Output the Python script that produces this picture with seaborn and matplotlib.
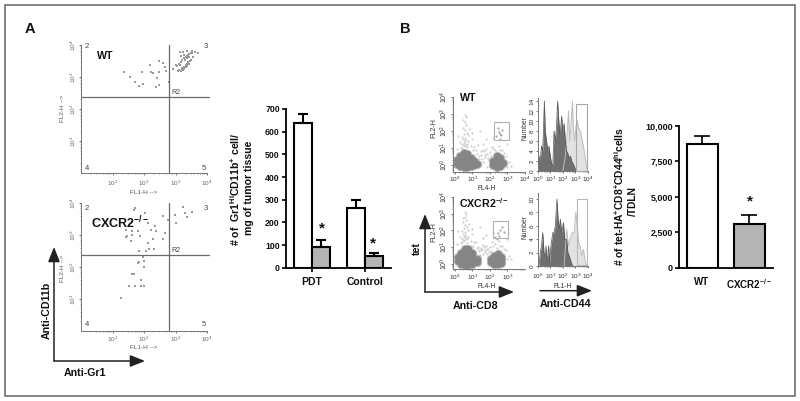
import pandas as pd
import numpy as np
import matplotlib
matplotlib.use('Agg')
import matplotlib.pyplot as plt
from matplotlib.patches import Rectangle
import seaborn as sns

# Panel A dot plots, values read in decades of the log axes
wt_fl1 = [1.37, 1.57, 1.73, 1.84, 1.96, 1.95, 2.19, 2.22, 2.30, 2.37, 2.41, 2.49, 2.48, 2.48, 2.60, 2.68, 2.70, 2.78, 2.91, 3.00,
          3.13, 3.25, 3.38, 3.51, 3.61, 3.70,
          3.05, 3.08, 3.10, 3.12, 3.14, 3.16, 3.18, 3.20, 3.20, 3.22, 3.24, 3.26, 3.28, 3.28, 3.30, 3.32, 3.32, 3.34, 3.36,
          3.36, 3.38, 3.40, 3.40, 3.42, 3.44, 3.44, 3.46, 3.48, 3.50, 3.52, 3.54, 3.16, 3.26, 3.36]
wt_fl2 = [3.15, 2.99, 2.83, 2.72, 2.77, 3.15, 3.38, 3.15, 3.14, 2.70, 2.96, 2.75, 3.17, 3.50, 3.45, 3.32, 3.20, 2.85, 3.25, 3.38,
          3.77, 3.77, 3.82, 3.82, 3.79, 3.74,
          3.34, 3.20, 3.40, 3.22, 3.38, 3.18, 3.46, 3.24, 3.52, 3.28, 3.22, 3.58, 3.32, 3.26, 3.54, 3.30, 3.62, 3.36, 3.58,
          3.66, 3.40, 3.70, 3.46, 3.64, 3.42, 3.72, 3.50, 3.74, 3.54, 3.76, 3.62, 3.66, 3.68, 3.34]
ko_fl1 = [1.71, 1.69, 2.03, 1.42, 1.47, 1.42, 1.63, 1.62, 1.60, 1.82, 1.87, 2.14, 2.22, 2.35, 2.39, 2.30, 2.14, 2.05, 2.16, 2.33,
          1.84, 1.96, 2.01, 1.85, 1.82, 2.00, 1.62, 1.69, 1.89, 1.52, 1.73, 1.89, 1.99, 1.28, 2.59, 2.76, 2.68, 2.59, 2.97, 3.00,
          3.24, 3.30, 3.51, 3.35]
ko_fl2 = [3.84, 3.78, 3.70, 3.15, 2.98, 2.94, 3.14, 3.01, 2.82, 3.14, 2.96, 3.38, 3.17, 3.28, 3.14, 2.88, 2.74, 2.51, 2.55, 2.55,
          2.50, 2.32, 2.18, 2.16, 2.11, 2.00, 1.79, 1.79, 1.60, 1.40, 1.40, 1.40, 1.40, 1.02, 3.60, 3.46, 3.06, 2.88, 3.63, 3.38,
          3.89, 3.70, 3.72, 3.57]
quad_fl1 = 2.79
quad_fl2 = 2.375

# Panel A bars
a_groups = ['PDT', 'PDT', 'Control', 'Control']
a_mice = ['WT', 'CXCR2', 'WT', 'CXCR2']
a_counts = [640, 90, 262, 52]
a_err = [40, 30, 36, 13]

# Panel B dot plots: dense populations and the sparse events around them
wt_pop_fl4 = [0.12, 0.12, 0.3, 0.3, 0.3, 0.3, 0.5, 0.5, 0.5, 0.5, 0.7, 0.7, 0.7, 0.7, 0.9, 0.9, 0.9, 1.1, 1.1, 1.25,
              2.2, 2.2, 2.4, 2.4, 2.4, 2.4, 2.6, 2.6, 2.6, 2.75]
wt_pop_fl2 = [0.05, 0.3, -0.05, 0.15, 0.4, 0.55, -0.1, 0.15, 0.4, 0.68, -0.1, 0.15, 0.4, 0.62, -0.05, 0.15, 0.4, 0.0, 0.22, 0.08,
              0.02, 0.25, -0.1, 0.12, 0.32, 0.5, -0.05, 0.15, 0.38, 0.12]
ko_pop_fl4 = [0.15, 0.15, 0.35, 0.35, 0.35, 0.35, 0.55, 0.55, 0.55, 0.55, 0.55, 0.75, 0.75, 0.75, 0.75, 0.75, 1.0, 1.0, 1.0, 1.0, 1.25, 1.25,
              2.05, 2.05, 2.25, 2.25, 2.25, 2.45, 2.45, 2.45, 2.45, 2.65, 2.65, 2.65]
ko_pop_fl2 = [0.15, 0.4, -0.0, 0.2, 0.45, 0.65, -0.05, 0.2, 0.45, 0.7, 0.88, -0.05, 0.2, 0.45, 0.7, 0.9, 0.0, 0.2, 0.45, 0.65, 0.1, 0.3,
              0.1, 0.32, 0.0, 0.25, 0.48, 0.0, 0.2, 0.42, 0.58, 0.05, 0.25, 0.42]
wt_sparse_fl4 = [0.4, 0.5, 0.6, 0.7, 0.45, 0.55, 0.65, 0.5, 0.6, 0.75, 0.35, 0.8, 0.55, 0.7, 0.45, 0.65, 0.3, 0.9, 0.6, 0.5,
                 1.0, 1.2, 0.2, 1.3, 1.5, 1.7, 1.6, 1.8, 1.9, 2.0, 2.1, 1.75, 1.55, 2.3, 2.5, 2.7, 2.9, 2.2, 2.6, 2.8,
                 1.4, 1.65, 1.85, 2.05, 2.4, 3.1, 3.0, 0.1, 1.1, 0.95, 1.25, 3.2, 1.45, 2.15, 2.95, 1.05,
                 0.52, 0.62, 0.58, 0.42, 0.68, 0.48, 0.72, 0.38, 1.35, 1.48, 1.62, 1.72, 1.95, 1.58, 1.42, 1.82]
wt_sparse_fl2 = [1.0, 1.3, 1.6, 1.9, 2.2, 2.5, 2.8, 1.15, 1.45, 1.75, 1.0, 2.1, 2.05, 1.25, 1.5, 2.35, 1.35, 1.1, 2.95, 1.85,
                 1.5, 0.9, 1.7, 1.2, 0.8, 0.6, 1.25, 0.95, 0.4, 0.75, 1.05, 1.5, 0.35, 0.9, 1.1, 0.85, 0.55, 0.95, 0.9, 0.7,
                 0.55, 0.8, -0.1, 0.5, 0.75, 0.2, -0.1, 0.95, 1.05, 1.9, 0.65, -0.05, 2.0, 1.6, 1.25, 0.85,
                 1.1, 1.2, 1.38, 1.62, 1.05, 2.65, 1.4, 1.22, 0.35, 0.6, 0.2, 0.45, 0.3, 0.9, 0.15, 0.65]
ko_sparse_fl4 = [0.4, 0.5, 0.6, 0.7, 0.45, 0.55, 0.65, 0.5, 0.6, 0.75, 0.35, 0.8, 0.55, 0.7, 0.45, 0.65, 0.3, 0.9, 0.6, 0.5,
                 1.0, 1.2, 0.2, 1.3, 1.5, 1.7, 1.6, 1.8, 1.9, 2.0, 2.1, 1.75, 1.55, 2.3, 2.5, 2.7, 2.9, 2.2, 2.6, 2.8,
                 1.4, 1.65, 1.85, 2.05, 2.4, 3.1, 3.0, 0.1, 1.1, 0.95, 1.25, 3.2, 1.45, 2.15, 2.95, 1.05,
                 0.52, 0.62, 0.58, 0.42, 0.68, 0.48, 0.72, 0.38, 1.35, 1.48, 1.62, 1.72, 1.95, 1.58, 1.42, 1.82]
ko_sparse_fl2 = [1.3, 1.6, 1.9, 2.2, 2.5, 2.8, 3.0, 1.45, 1.75, 2.05, 1.25, 2.4, 2.35, 1.55, 1.8, 2.65, 1.6, 1.4, 3.1, 2.15,
                 1.8, 1.3, 1.95, 1.0, 0.9, 0.7, 1.55, 1.1, 0.9, 1.0, 1.3, 1.75, 0.85, 1.2, 1.35, 1.05, 0.85, 1.1, 1.1, 0.9,
                 0.85, 1.0, 0.6, 0.8, 0.95, 0.5, 0.3, 1.2, 1.3, 2.1, 0.95, 0.3, 2.2, 1.85, 1.5, 1.1,
                 1.35, 1.5, 1.68, 1.95, 1.28, 2.75, 1.62, 1.48, 0.75, 0.95, 0.6, 0.85, 0.7, 1.15, 0.55, 0.9]
wt_gate_fl4 = [2.35, 2.5, 2.55, 2.7, 2.45, 2.65, 2.6]
wt_gate_fl2 = [1.7, 1.95, 1.5, 2.05, 2.2, 1.75, 1.85]
ko_gate_fl4 = [2.3, 2.45, 2.6, 2.7, 2.5, 2.4, 2.8]
ko_gate_fl2 = [1.6, 1.85, 2.05, 2.2, 1.7, 1.5, 1.9]

# Panel B histograms
wt_dark_fl1 = [0, .1, .2, .3, .4, .53, .6, .7, .8, .9, 1, 1.1, 1.2, 1.3, 1.4, 1.5, 1.58, 1.68, 1.78, 1.9, 2, 2.1, 2.2, 2.3, 2.4, 2.5, 2.6, 2.7, 2.8, 2.9, 3.0, 3.1]
wt_dark_num = [0, 3, 2, 5, 4, 14, 8, 6, 4, 5, 3, 1.5, 1, 8, 6, 9, 14, 10, 7, 11, 8, 9.5, 6, 4, 3.5, 2.5, 3, 2, 1.5, 1, .3, 0]
wt_light_fl1 = [2.0, 2.2, 2.3, 2.45, 2.55, 2.65, 2.76, 2.85, 2.95, 3.05, 3.15, 3.25, 3.4, 3.55, 3.7, 3.85, 3.95]
wt_light_num = [0, 3, 6, 12, 6, 9, 14, 8, 6, 9, 10, 8.5, 8, 6, 4, 1.5, 0]
ko_dark_fl1 = [.1, .2, .3, .4, .5, .6, .66, .75, .87, .95, 1.05, 1.2, 1.3, 1.4, 1.53, 1.62, 1.72, 1.8, 1.9, 2.05, 2.15, 2.3, 2.4, 2.5, 2.6, 2.7, 2.8]
ko_dark_num = [0, 2, 3, 5, 2, 1.5, 3, .5, 3, .5, 3, 5, 5, 6, 10, 7, 5.5, 7, 5, 6.5, 4, 4, 2, 1.5, 1, .3, 0]
ko_light_fl1 = [2.1, 2.3, 2.45, 2.58, 2.75, 2.9, 3.03, 3.15, 3.25, 3.37, 3.5, 3.63, 3.8, 3.95]
ko_light_num = [0, 5.5, 3, 4, 5, 5, 8, 6, 3.5, 3, 1.5, 2.5, .5, 0]

# Panel B bars
b_mice = ['WT', 'CXCR2$\\mathbf{^{-/-}}$']
b_counts = [8750, 3050]
b_err = [550, 700]
b_ticks = [0, 2500, 5000, 7500, 10000]
b_ticklabels = ['0', '2,500', '5,000', '7,500', '10,000']

sns.set_theme(style='white')
plt.rcParams['font.family'] = ['Liberation Sans', 'DejaVu Sans']
plt.rcParams['mathtext.fontset'] = 'custom'
plt.rcParams['mathtext.rm'] = 'Liberation Sans'
plt.rcParams['mathtext.bf'] = 'Liberation Sans:bold'
plt.rcParams['mathtext.default'] = 'rm'

W, H = 800, 401
fig = plt.figure(figsize=(W / 100, H / 100), dpi=100, facecolor='white')

# overlay in pixel coordinates for frame, arrows and free text
page = fig.add_axes([0, 0, 1, 1], zorder=5)
page.set_xlim(0, W)
page.set_ylim(H, 0)
page.axis('off')
page.patch.set_alpha(0)


def add_ax(left, top, right, bottom):
    return fig.add_axes([left / W, 1 - bottom / H, (right - left) / W, (bottom - top) / H])


def label(x, y, s, size=7.7, weight='bold', color='#111111', rotation=0):
    page.text(x, y, s, fontsize=size, fontweight=weight, color=color, rotation=rotation, ha='center', va='center')


def arrow(x0, y0, x1, y1):
    page.annotate('', xy=(x1, y1), xytext=(x0, y0),
                  arrowprops=dict(arrowstyle='-|>,head_length=0.75,head_width=0.3', color='#222222', lw=1.1,
                                  shrinkA=0, shrinkB=0))


def log_ticks(ax, axis, decades, size, color, pad):
    labels = ['$10^{%d}$' % d for d in decades]
    minors = [d + m for d in range(-1, 5) for m in np.log10(np.arange(2, 10))]
    if axis == 'x':
        ax.set_xticks(decades, labels)
        ax.set_xticks([m for m in minors if ax.get_xlim()[0] < m < ax.get_xlim()[1]], minor=True)
        ax.tick_params(axis='x', which='major', labelsize=size, labelcolor=color, length=1.5, width=0.6, color='#666666', pad=pad, bottom=True)
        ax.tick_params(axis='x', which='minor', length=1, width=0.4, color='#666666', bottom=True)
    else:
        ax.set_yticks(decades, labels, rotation=90, va='center')
        ax.set_yticks([m for m in minors if ax.get_ylim()[0] < m < ax.get_ylim()[1]], minor=True)
        ax.tick_params(axis='y', which='major', labelsize=size, labelcolor=color, length=1.5, width=0.6, color='#666666', pad=pad, left=True)
        ax.tick_params(axis='y', which='minor', length=1, width=0.4, color='#666666', left=True)


def style_flow(ax):
    sns.despine(ax=ax)
    for side in ['left', 'bottom']:
        ax.spines[side].set_color('#777777')
        ax.spines[side].set_linewidth(0.7)
    ax.set_xlabel('')
    ax.set_ylabel('')


def quadrant_plot(top, bottom, fl1, fl2, xpad):
    ax = add_ax(81, top, 207, bottom)
    ax.patch.set_alpha(0)
    sns.scatterplot(x=fl1, y=fl2, ax=ax, color='#9a9a9a', s=2.2, marker='s', linewidth=0, clip_on=False)
    ax.set_xlim(0, 4)
    ax.set_ylim(0, 4)
    ax.plot([0, 4.07], [quad_fl2, quad_fl2], color='#6a6a6a', lw=0.9, clip_on=False)
    ax.plot([quad_fl1, quad_fl1], [0, 4], color='#6a6a6a', lw=0.9, clip_on=False)
    style_flow(ax)
    log_ticks(ax, 'x', [1, 2, 3, 4], 4.6, '#666666', xpad)
    log_ticks(ax, 'y', [1, 2, 3, 4], 4.6, '#666666', 1)
    return ax


def gated_plot(top, bottom, ymin, pop_x, pop_y, sp_x, sp_y, g_x, g_y, xdecades):
    ax = add_ax(453, top, 525, bottom)
    ax.patch.set_alpha(0)
    sns.scatterplot(x=sp_x, y=sp_y, ax=ax, color='#cfcfcf', s=2.5, linewidth=0)
    # soft halo under the dense populations
    sns.scatterplot(x=pop_x, y=pop_y, ax=ax, color='#b4b4b4', s=44, linewidth=0, clip_on=False)
    sns.scatterplot(x=pop_x, y=pop_y, ax=ax, color='#858585', s=26, linewidth=0, clip_on=False)
    sns.scatterplot(x=g_x, y=g_y, ax=ax, color='#a8a8a8', s=2.5, linewidth=0)
    ax.set_xlim(-0.11, 4)
    ax.set_ylim(ymin, 4)
    style_flow(ax)
    log_ticks(ax, 'x', xdecades, 4.6, '#333333', 1)
    log_ticks(ax, 'y', [0, 1, 2, 3, 4], 5, '#333333', 1)
    return ax


def hist_plot(top, bottom, ymax, yticks, lx, ly, dx, dy, xpad):
    ax = add_ax(537.7, top, 588, bottom)
    ax.patch.set_alpha(0)
    ax.fill_between(lx, ly, color='#e2e2e2', lw=0)
    sns.lineplot(x=lx, y=ly, ax=ax, color='#bdbdbd', lw=0.7, sort=False, estimator=None)
    ax.fill_between(dx, dy, color='#707070', lw=0)
    sns.lineplot(x=dx, y=dy, ax=ax, color='#555555', lw=0.5, sort=False, estimator=None)
    ax.set_xlim(0, 4)
    ax.set_ylim(0, ymax)
    style_flow(ax)
    log_ticks(ax, 'x', [0, 1, 2, 3, 4], 4.6, '#333333', xpad)
    ax.set_yticks(yticks, [str(t) for t in yticks], rotation=90, va='center')
    ax.tick_params(axis='y', labelsize=4.6, labelcolor='#333333', length=1.5, width=0.6, color='#666666', pad=0.5, left=True)
    return ax


# Panel A dot plots
quadrant_plot(45, 173, wt_fl1, wt_fl2, 2.8)
quadrant_plot(203, 331, ko_fl1, ko_fl2, 1)

for y2, y4, yr, yx, yfl in [(47, 168, 92, 193, 108), (208, 325, 250.7, 347.7, 268)]:
    label(87, y2, '2', 5.5, 'normal', '#444444')
    label(205.7, y2, '3', 5.5, 'normal', '#444444')
    label(87, y4, '4', 5.5, 'normal', '#444444')
    label(203.5, y4, '5', 5.5, 'normal', '#444444')
    label(176, yr, 'R2', 5, 'normal', '#444444')
    label(144, yx, 'FL1-H -->', 4.6, 'normal', '#555555')
    label(63, yfl, 'FL2-H -->', 4.6, 'normal', '#555555', rotation=90)
label(105, 56, 'WT')
label(120, 223, 'CXCR2$\\mathbf{^{-/-}}$', 9)

# Panel A bars
a_df = pd.DataFrame({'group': a_groups, 'mouse': a_mice, 'count': a_counts})
ax = add_ax(286, 109, 391, 267.7)
sns.barplot(data=a_df, x='group', y='count', hue='mouse', palette=['white', '#b4b4b4'], edgecolor='black',
            linewidth=1.5, width=0.68, gap=0, errorbar=None, legend=False, ax=ax)
xs = [p.get_x() + p.get_width() / 2 for c in ax.containers for p in c]
hs = [p.get_height() for c in ax.containers for p in c]
errs = [a_err[0], a_err[2], a_err[1], a_err[3]]
ax.errorbar(xs, hs, yerr=[[0] * 4, errs], fmt='none', ecolor='black', elinewidth=1.5, capsize=3.3, capthick=1.5)
ax.set_xlim(-0.49, 1.49)
ax.set_ylim(0, 700)
ax.set_xlabel('')
ax.set_ylabel('')
ax.patch.set_alpha(0)
sns.despine(ax=ax)
for side in ['left', 'bottom']:
    ax.spines[side].set_linewidth(1.3)
    ax.spines[side].set_color('black')
ax.tick_params(axis='y', labelsize=6.3, width=1.2, length=3, pad=1.5, left=True, color='black', labelcolor='#111111')
ax.tick_params(axis='x', labelsize=7.5, width=1.2, length=3, pad=4, bottom=True, color='black', labelcolor='#111111')
for t in ax.get_xticklabels() + ax.get_yticklabels():
    t.set_fontweight('bold')
label(235, 189, '# of  Gr1$\\mathbf{^{Hi}}$CD11b$\\mathbf{^{+}}$ cell/', 7.6, rotation=90)
label(249, 188, 'mg of tumor tissue', 7.6, rotation=90)
label(321.7, 228, '*', 11)
label(373, 243, '*', 11)

arrow(54, 361, 54, 247)
arrow(54, 361, 145, 361)
label(47, 310, 'Anti-CD11b', rotation=90)
label(85, 373, 'Anti-Gr1')

# Panel B dot plots and histograms
gated_plot(97, 171.7, -0.4, wt_pop_fl4, wt_pop_fl2, wt_sparse_fl4, wt_sparse_fl2, wt_gate_fl4, wt_gate_fl2, [0, 1, 2, 3, 4])
gated_plot(197, 269, -0.3, ko_pop_fl4, ko_pop_fl2, ko_sparse_fl4, ko_sparse_fl2, ko_gate_fl4, ko_gate_fl2, [0, 1, 2, 3])
hist_plot(98, 171, 14.6, [0, 2, 4, 6, 8, 10, 12, 14], wt_light_fl1, wt_light_num, wt_dark_fl1, wt_dark_num, 1)
hist_plot(193, 266, 10.9, [0, 2, 4, 6, 8, 10], ko_light_fl1, ko_light_num, ko_dark_fl1, ko_dark_num, 2.6)

page.add_patch(Rectangle((493.7, 122), 15.3, 18, fill=False, ec='#b0b0b0', lw=0.8))
page.add_patch(Rectangle((492.7, 220.7), 15.3, 17.3, fill=False, ec='#b0b0b0', lw=0.8))
page.add_patch(Rectangle((576, 104), 10.7, 67, fill=False, ec='#a8a8a8', lw=0.8))
page.add_patch(Rectangle((576.7, 199), 10, 66, fill=False, ec='#b8b8b8', lw=0.8))

label(468.5, 98, 'WT')
label(484, 203, 'CXCR2$\\mathbf{^{-/-}}$')
for y in [128, 232]:
    label(434, y, 'FL2-H', 5, 'normal', '#333333', rotation=90)
for y in [128, 227]:
    label(525, y, 'Number', 4.8, 'normal', '#333333', rotation=90)
label(487, 188, 'FL4-H', 4.8, 'normal', '#333333')
label(487, 286, 'FL4-H', 4.8, 'normal', '#333333')
label(562.7, 286, 'FL1-H', 4.8, 'normal', '#333333')

arrow(425, 292, 425, 214)
arrow(425, 292, 514, 292)
arrow(540, 290.7, 592, 290.7)
label(417, 248, 'tet', rotation=90)
label(476, 305.7, 'Anti-CD8')
label(566, 304, 'Anti-CD44')

# Panel B bars
ax = add_ax(679, 126, 772.7, 267.7)
sns.barplot(x=b_mice, y=b_counts, hue=b_mice, palette=['white', '#b4b4b4'], edgecolor='black', linewidth=1.5,
            width=0.66, errorbar=None, legend=False, ax=ax)
ax.errorbar([0, 1], b_counts, yerr=[[0, 0], b_err], fmt='none', ecolor='black', elinewidth=1.2, capsize=6, capthick=1.2)
ax.set_xlim(-0.49, 1.5)
ax.set_ylim(0, 10000)
ax.set_yticks(b_ticks, b_ticklabels)
ax.patch.set_alpha(0)
sns.despine(ax=ax)
for side in ['left', 'bottom']:
    ax.spines[side].set_linewidth(1.3)
    ax.spines[side].set_color('black')
ax.tick_params(axis='y', labelsize=6.5, width=1.2, length=3, pad=1.5, left=True, color='black', labelcolor='#111111')
ax.tick_params(axis='x', labelsize=7, length=0, pad=7, labelcolor='#111111')
for t in ax.get_xticklabels() + ax.get_yticklabels():
    t.set_fontweight('bold')
label(619, 196.5, '# of tet-HA$\\mathbf{^{+}}$CD8$\\mathbf{^{+}}$CD44$\\mathbf{^{hi}}$cells', 7.4, rotation=90)
label(633, 201, '/TDLN', 7.4, rotation=90)
label(750, 201, '*', 11)

# Panel letters and outer frame
label(30, 29, 'A', 10.5)
label(405.5, 29, 'B', 10.5)
page.add_patch(Rectangle((4.5, 4.5), 790.5, 391, fill=False, ec='#6e6e6e', lw=1.2))

plt.savefig('out.png', dpi=100)
